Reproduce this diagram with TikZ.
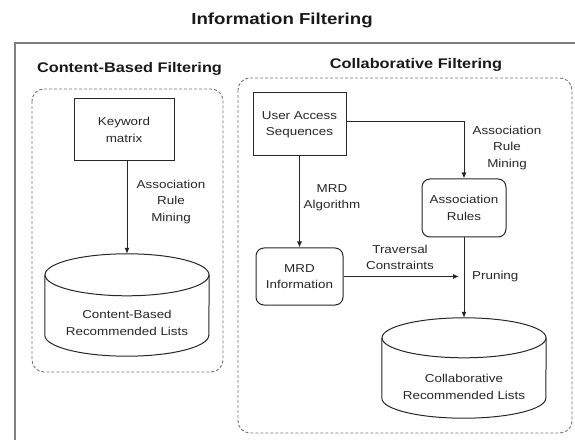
\documentclass[tikz,border=0pt]{standalone}
\usepackage{fontspec}
\setmainfont{Liberation Sans}[FakeStretch=1.17]
\usetikzlibrary{arrows.meta}

\tikzset{
  lbl/.style={font=\fontsize{11.5}{16.5}\selectfont, text=black!85, align=center, inner sep=0pt},
  head/.style={font=\fontsize{14}{16}\selectfont\bfseries, text=black!90, inner sep=0pt},
  sqbox/.style={lbl, draw=black!85, line width=1bp},
  rbox/.style={sqbox, rounded corners=8bp},
  region/.style={draw=black!55, dash pattern=on 3bp off 2bp, line width=0.9bp, rounded corners=12bp},
  frame/.style={draw=black!50, line width=2bp},
  drumline/.style={draw=black!85, line width=1bp},
  flow/.style={draw=black!85, line width=1bp, -{Latex[length=6bp,width=5bp]}},
}

\begin{document}
\begin{tikzpicture}[x=1bp,y=-1bp]
\useasboundingbox (0,0) rectangle (575,440);

% outer frame, running off the page to the right and bottom
\begin{scope}
  \clip (0,0) rectangle (575,440);
  \draw[frame] (14.5,43) rectangle (620,480);
\end{scope}

% headings
\node[head, font=\fontsize{16}{18}\selectfont\bfseries] (title) at (282,20) {Information Filtering};
\node[head] (cbhead) at (129.5,69) {Content-Based Filtering};
\node[head] (cfhead) at (416,65) {Collaborative Filtering};

% dashed regions
\draw[region] (32,89) rectangle (223,372);
\draw[region] (238,78) rectangle (572,433);

% content-based side
\node[sqbox, minimum width=100bp, minimum height=62bp] (kw) at (124,130) {Keyword\\matrix};
\node[minimum width=164bp, minimum height=102bp, inner sep=0pt] (cbl) at (127,305) {};
\node[lbl] (cbltext) at (127,323) {Content-Based\\Recommended Lists};
\draw[drumline] ([yshift=-21bp]cbl.north) ellipse[x radius=82bp, y radius=21bp];
\draw[drumline] ([yshift=-21bp]cbl.north west) -- ([yshift=21bp]cbl.south west)
  arc[start angle=180, end angle=360, x radius=82bp, y radius=21bp]
  -- ([yshift=-21bp]cbl.north east);
\draw[flow] (kw.south -| cbl.north) -- (cbl.north);
\node[lbl] (armine1) at (171,202) {Association\\Rule\\Mining};

% collaborative side
\node[sqbox, minimum width=93bp, minimum height=63bp] (ua) at (299.5,124.5) {User Access\\Sequences};
\node[rbox, minimum width=84bp, minimum height=58bp] (ar) at (464,208) {Association\\Rules};
\node[rbox, minimum width=87bp, minimum height=57bp] (mrd) at (299.5,276.5) {MRD\\Information};
\node[minimum width=164bp, minimum height=100bp, inner sep=0pt] (cbr) at (464,368) {};
\node[lbl] (cbrtext) at (464,387) {Collaborative\\Recommended Lists};
\draw[drumline] ([yshift=-20bp]cbr.north) ellipse[x radius=82bp, y radius=20bp];
\draw[drumline] ([yshift=-20bp]cbr.north west) -- ([yshift=20bp]cbr.south west)
  arc[start angle=180, end angle=360, x radius=82bp, y radius=20bp]
  -- ([yshift=-20bp]cbr.north east);

\draw[flow] ([yshift=2.5bp]ua.east) -| (ar.north);
\draw[flow] (ua.south) -- (mrd.north);
\coordinate (meet) at (ar.south |- mrd.east);
\draw[flow, shorten >=5bp] (mrd.east) -- (meet);
\draw[flow] (ar.south) -- (cbr.north);

\node[lbl] (armine2) at (507,148) {Association\\Rule\\Mining};
\node[lbl] (mrdalg) at (332,197.5) {MRD\\Algorithm};
\node[lbl] (trav) at (400,257.5) {Traversal\\Constraints};
\node[lbl, anchor=west] (prune) at (472,277) {Pruning};
\end{tikzpicture}
\end{document}
